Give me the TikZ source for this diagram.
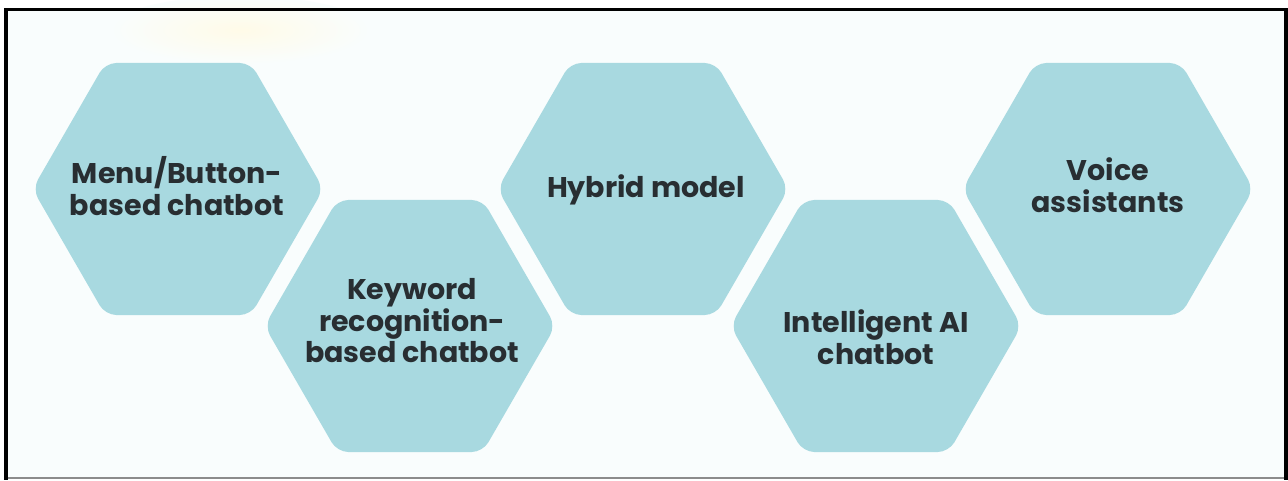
\documentclass[tikz,border=0pt]{standalone}
\usepackage{fontspec}
\setmainfont{Poppins}
\usetikzlibrary{shapes.geometric}
\definecolor{hexfill}{RGB}{168,217,224}
\definecolor{bgcol}{RGB}{249,253,253}
\definecolor{txtcol}{RGB}{40,46,50}
\definecolor{glow}{RGB}{255,251,232}
\tikzset{
  hexa/.style={regular polygon, regular polygon sides=6, minimum size=291pt,
    inner sep=0pt, outer sep=0pt, fill=hexfill, draw=none, rounded corners=11pt},
  lbl/.style={align=center, text=txtcol, inner sep=0pt,
    font=\fontsize{28.5}{31.5}\selectfont\bfseries}
}
\begin{document}
\begin{tikzpicture}[x=1pt,y=-1pt]
\useasboundingbox (0,0) rectangle (1288,480);
\fill[white] (0,0) rectangle (1288,480);
\fill[bgcol] (8,11) rectangle (1284,478);
\shade[inner color=glow, outer color=bgcol] (240,30) ellipse [x radius=130, y radius=34];
% frame
\fill[black] (4,8) rectangle (8,480);
\fill[black] (4,8) rectangle (1288,11);
\fill[black] (1284,8) rectangle (1288,480);
\fill[black!45] (8,477) rectangle (1284,479);
% hexagons
\node[hexa] (h1) at (178,189) {};
\node[hexa] (h2) at (410,326) {};
\node[hexa] (h3) at (643,189) {};
\node[hexa] (h4) at (876,326) {};
\node[hexa] (h5) at (1108,189) {};
% labels
\node[lbl] (t1) at (177,186) {Menu/Button-\\based chatbot};
\node[lbl] (t2) at (412,321) {Keyword\\recognition-\\based chatbot};
\node[lbl] (t3) at (646,190) {Hybrid model};
\node[lbl] (t4) at (876,337) {Intelligent AI\\chatbot};
\node[lbl] (t5) at (1108,185) {Voice\\assistants};
\end{tikzpicture}
\end{document}
